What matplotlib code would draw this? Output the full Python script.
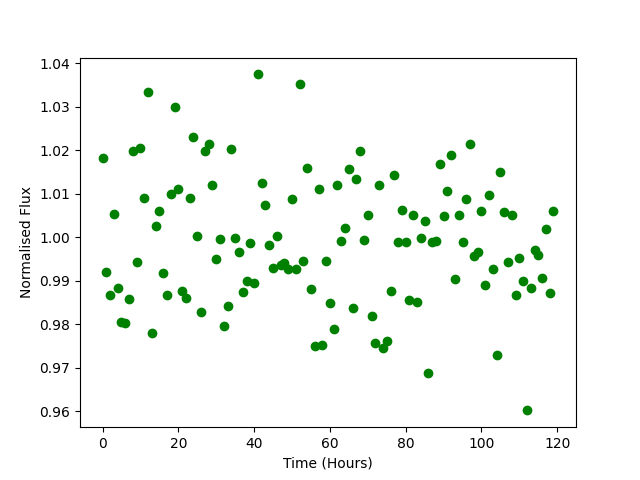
import numpy as np
import matplotlib
matplotlib.use('Agg')
import matplotlib.pyplot as plt

hours = np.arange(120)
flux = [
    1.0181, 0.9919, 0.9868, 1.0054, 0.9884, 0.9805, 0.9802, 0.9859, 1.0199, 0.9942,
    1.0206, 1.0091, 1.0333, 0.9779, 1.0025, 1.0060, 0.9917, 0.9868, 1.0100, 1.0298,
    1.0110, 0.9877, 0.9861, 1.0089, 1.0230, 1.0002, 0.9829, 1.0199, 1.0215, 1.0120,
    0.9949, 0.9995, 0.9797, 0.9841, 1.0202, 0.9999, 0.9967, 0.9875, 0.9900, 0.9986,
    0.9894, 1.0374, 1.0124, 1.0073, 0.9983, 0.9929, 1.0002, 0.9937, 0.9940, 0.9928,
    1.0087, 0.9926, 1.0353, 0.9945, 1.0158, 0.9880, 0.9751, 1.0110, 0.9753, 0.9946,
    0.9848, 0.9790, 1.0121, 0.9991, 1.0020, 1.0156, 0.9838, 1.0133, 1.0199, 0.9993,
    1.0052, 0.9820, 0.9758, 1.0121, 0.9746, 0.9761, 0.9876, 1.0143, 0.9988, 1.0062,
    0.9988, 0.9855, 1.0052, 0.9852, 0.9997, 1.0038, 0.9689, 0.9989, 0.9992, 1.0167,
    1.0048, 1.0107, 1.0189, 0.9905, 1.0052, 0.9988, 1.0087, 1.0215, 0.9956, 0.9965,
    1.0061, 0.9891, 1.0096, 0.9928, 0.9730, 1.0149, 1.0057, 0.9942, 1.0052, 0.9866,
    0.9952, 0.9900, 0.9602, 0.9884, 0.9971, 0.9958, 0.9907, 1.0018, 0.9871, 1.0060,
]

fig = plt.figure(figsize=(6.4, 4.8), dpi=100)
plt.plot(hours, flux, 'o', color='green')
plt.xlabel('Time (Hours)')
plt.ylabel('Normalised Flux')
plt.savefig('out.png')
